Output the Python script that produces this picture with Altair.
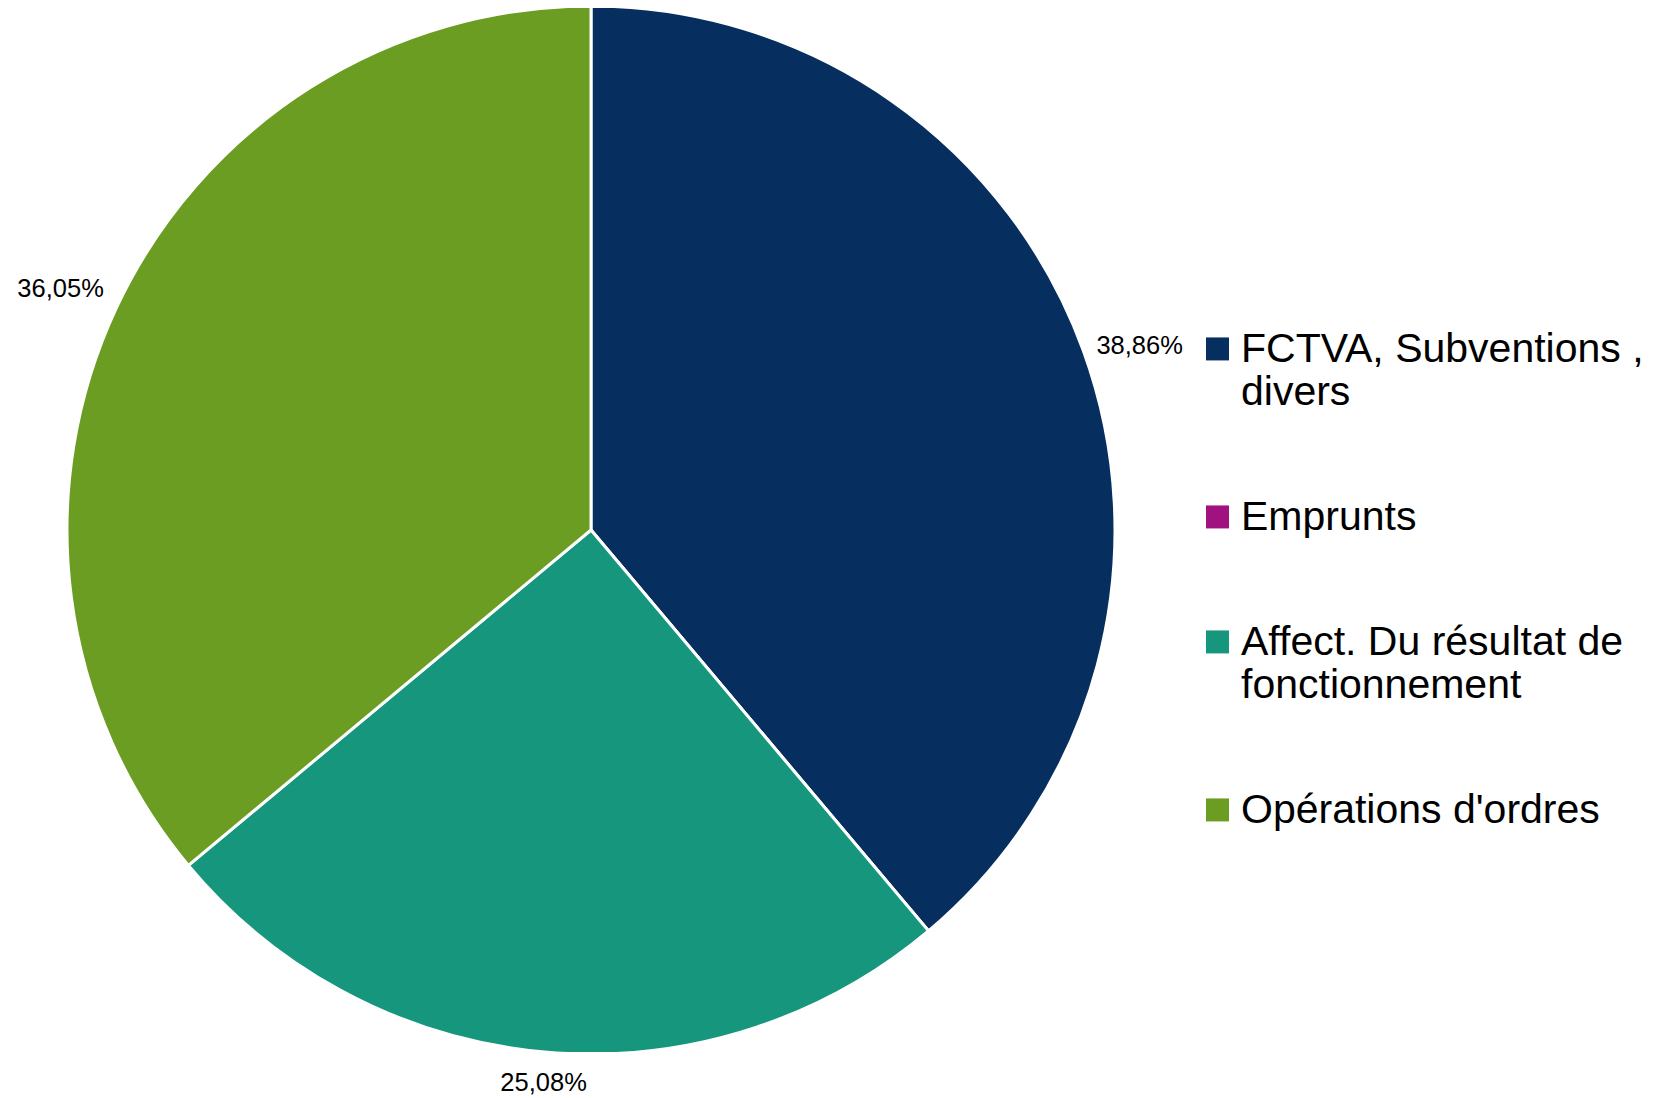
import altair as alt
import pandas as pd

# Data
categories = [
    "FCTVA, Subventions , divers",
    "Emprunts",
    "Affect. Du résultat de fonctionnement",
    "Opérations d'ordres",
]
values = [38.86, 0.0, 25.08, 36.05]
colors = ["#062F5F", "#A1117F", "#15967D", "#6A9D21"]

df = pd.DataFrame({
    "categorie": categories,
    "valeur": values,
    "ordre": list(range(len(categories))),
    "etiquette": [f"{v:.2f}".replace(".", ",") + "%" for v in values],
})

theta = alt.Theta("valeur:Q", stack=True)
order = alt.Order("ordre:Q", sort="ascending")

legend_label_expr = (
    "split(replace(replace(datum.label, 'Subventions , ', 'Subventions ,\\n'), "
    "'résultat de ', 'résultat de\\n'), '\\n')"
)

pie = alt.Chart(df).mark_arc(stroke="white", strokeWidth=3, radius=524, clip=True).encode(
    theta=theta,
    order=order,
    color=alt.Color(
        "categorie:N",
        sort=categories,
        scale=alt.Scale(domain=categories, range=colors),
        legend=alt.Legend(
            title=None,
            orient="none",
            legendX=1189,
            legendY=301,
            padding=0,
            symbolType="M-1,0.69H1V2.69H-1Z",
            symbolSize=529,
            symbolStrokeWidth=0,
            labelFont="Liberation Sans",
            labelFontSize=41,
            labelColor="black",
            labelLimit=0,
            labelBaseline="top",
            labelOffset=3,
            rowPadding=64,
            labelExpr=legend_label_expr,
        ),
    ),
)

# LibreOffice-style label placement: 8 sectors around the pie
align_expr = (
    "(datum.angle < 22.5 || datum.angle >= 337.5 || (datum.angle >= 157.5 && datum.angle < 202.5))"
    " ? 'center' : (datum.angle < 180 ? 'left' : 'right')"
)
baseline_expr = (
    "((datum.angle >= 67.5 && datum.angle < 112.5) || (datum.angle >= 247.5 && datum.angle < 292.5))"
    " ? 'middle' : ((datum.angle >= 112.5 && datum.angle < 247.5) ? 'top' : 'bottom')"
)
dy_expr = "(datum.angle >= 112.5 && datum.angle < 247.5) ? 5 : 0"

labels = alt.Chart(df).transform_joinaggregate(
    total="sum(valeur)"
).transform_window(
    cumul="sum(valeur)", sort=[alt.SortField("ordre")]
).transform_calculate(
    angle="360 * (datum.cumul - datum.valeur / 2) / datum.total"
).transform_filter(
    "datum.valeur > 0"
).mark_text(
    radius=538,
    fontSize=25.5,
    font="Liberation Sans",
    color="black",
    align=alt.ExprRef(expr=align_expr),
    baseline=alt.ExprRef(expr=baseline_expr),
    dy=alt.ExprRef(expr=dy_expr),
).encode(
    theta=theta,
    order=order,
    detail="categorie:N",
    text="etiquette:N",
)

chart = alt.layer(pie, labels).properties(
    width=1166,
    height=1044,
    padding=0,
).configure_view(stroke=None)

chart.save("out.html", embed_options={"renderer": "svg", "actions": False})
